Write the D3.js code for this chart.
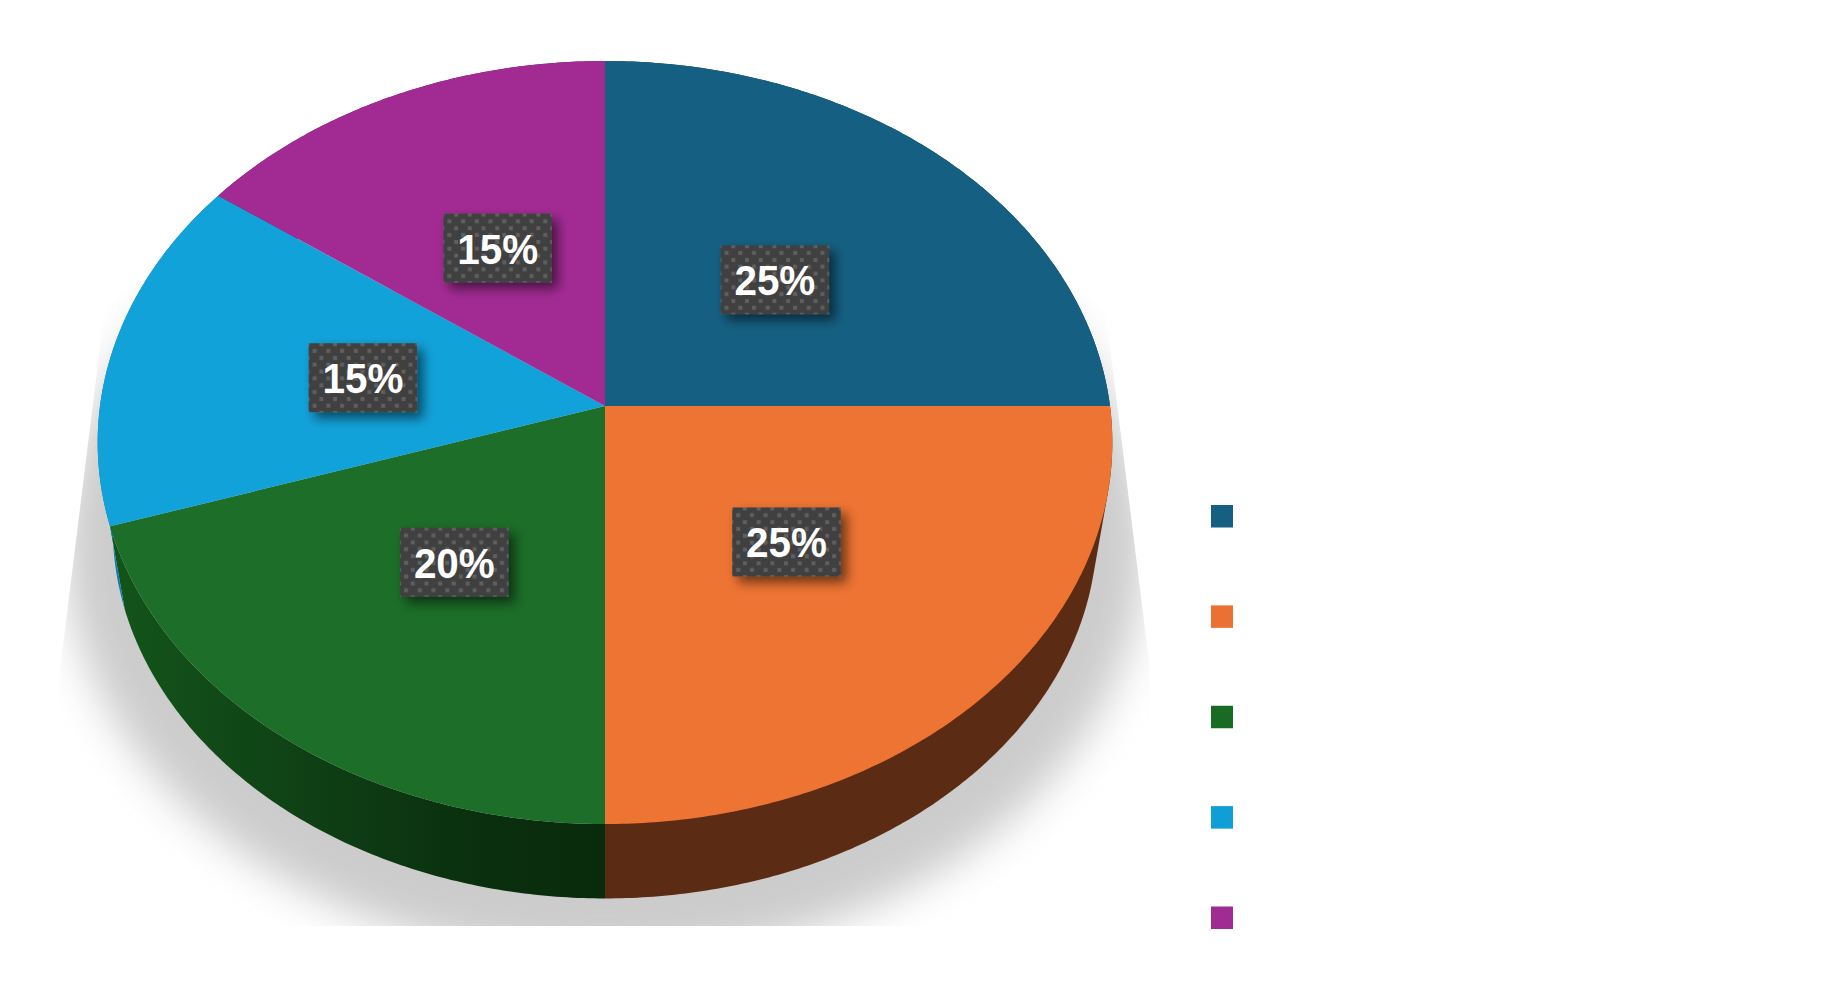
<!DOCTYPE html>
<html>
<head>
<meta charset="utf-8">
<script src="https://cdn.jsdelivr.net/npm/d3@7"></script>
<style>
    body { margin: 0; background: #fff; }
    svg { display: block; }
</style>
</head>
<body>
<div id="container"></div>
<script>
// chart data (legend names are not legible in the reference)
const categories = ["Slice 1", "Slice 2", "Slice 3", "Slice 4", "Slice 5"];
const values = [25, 25, 20, 15, 15];
const topColors = ["#156082", "#ee7433", "#1c6e28", "#12a2da", "#a22b93"];
const legendColors = ["#156082", "#eb7132", "#196b24", "#0f9ed5", "#a02b93"];
const sideColors = ["#0e4058", "#5c2b14", "url(#greenSide)", "#0d7cb2", "#6b1d62"];

const width = 1845;
const height = 990;

// the pie is a circle seen in perspective: k is how much nearer the bottom edge is
const topPlane = { cx: 605, cy: 406, a: 505, b: 378, k: 0.0957 };
const lowPlane = { cx: 605, cy: 492.6, a: 490, b: 367, k: 0.0957 };

function project(plane, angle, r) {
    const u = Math.sin(angle) * r;
    const v = -Math.cos(angle) * r;
    const w = 1 - plane.k * v;
    return [plane.cx + plane.a * u / w, plane.cy + plane.b * v / w];
}

// sample an arc between two angles, one point per half degree or so
function arcPoints(plane, a0, a1) {
    const n = Math.ceil(Math.abs(a1 - a0) / 0.01);
    return d3.range(n + 1).map(i => project(plane, a0 + (a1 - a0) * i / n, 1));
}

const line = d3.line();
const pie = d3.pie().sort(null).value(d => d);
const slices = pie(values);

const svg = d3.select("#container").append("svg")
    .attr("width", width)
    .attr("height", height);

const defs = svg.append("defs");

const blur = defs.append("filter").attr("id", "shadowBlur")
    .attr("x", "-20%").attr("y", "-20%").attr("width", "140%").attr("height", "140%");
blur.append("feGaussianBlur").attr("stdDeviation", 21);

// shadow is cut off sharply on both sides and along the bottom
defs.append("clipPath").attr("id", "shadowClip")
    .append("path")
    .attr("d", "M107,290L1103,290L1150,670L1150,926L60,926L60,670Z");

const greenSide = defs.append("linearGradient").attr("id", "greenSide")
    .attr("gradientUnits", "userSpaceOnUse")
    .attr("x1", 110).attr("x2", 605).attr("y1", 0).attr("y2", 0);
greenSide.append("stop").attr("offset", 0).attr("stop-color", "#13551b");
greenSide.append("stop").attr("offset", 0.4).attr("stop-color", "#0f4015");
greenSide.append("stop").attr("offset", 0.75).attr("stop-color", "#0a2f0e");
greenSide.append("stop").attr("offset", 1).attr("stop-color", "#082b0c");

const dots = defs.append("pattern").attr("id", "labelDots")
    .attr("patternUnits", "userSpaceOnUse")
    .attr("width", 13.7).attr("height", 13.7);
dots.append("rect").attr("width", 13.7).attr("height", 13.7).attr("fill", "#404040");
dots.append("rect").attr("x", 4).attr("y", 5.7).attr("width", 4).attr("height", 4).attr("fill", "#5e5e5e");
dots.append("rect").attr("x", 10.7).attr("y", -1).attr("width", 4).attr("height", 4).attr("fill", "#5e5e5e");
dots.append("rect").attr("x", -3).attr("y", -1).attr("width", 4).attr("height", 4).attr("fill", "#5e5e5e");
dots.append("rect").attr("x", 10.7).attr("y", 12.7).attr("width", 4).attr("height", 4).attr("fill", "#5e5e5e");
dots.append("rect").attr("x", -3).attr("y", 12.7).attr("width", 4).attr("height", 4).attr("fill", "#5e5e5e");

const labelShadow = defs.append("filter").attr("id", "labelShadow")
    .attr("x", "-20%").attr("y", "-20%").attr("width", "150%").attr("height", "150%");
labelShadow.append("feDropShadow")
    .attr("dx", 6).attr("dy", 6).attr("stdDeviation", 6)
    .attr("flood-color", "#000").attr("flood-opacity", 0.55);

// ground shadow
svg.append("g")
    .attr("clip-path", "url(#shadowClip)")
    .append("ellipse")
    .attr("cx", 605).attr("cy", 545)
    .attr("rx", 540).attr("ry", 415)
    .attr("fill", "#cccccc")
    .attr("filter", "url(#shadowBlur)");

// side wall of the pie; the orange one needs the hull of both rims to get
// its straight tangent edge on the right, the blue one stays a thin sliver
svg.append("g").selectAll("path")
    .data(slices)
    .join("path")
    .attr("fill", (d, i) => sideColors[i])
    .attr("d", d => {
        const rim = arcPoints(topPlane, d.startAngle, d.endAngle)
            .concat(arcPoints(lowPlane, d.endAngle, d.startAngle));
        return line(d.index === 1 ? d3.polygonHull(rim) : rim) + "Z";
    });

// top face
svg.append("g").selectAll("path")
    .data(slices)
    .join("path")
    .attr("fill", (d, i) => topColors[i])
    .attr("d", d => line([[topPlane.cx, topPlane.cy]]
        .concat(arcPoints(topPlane, d.startAngle, d.endAngle))) + "Z");

// value labels sit about halfway out along each slice
const labelW = 108.5;
const labelH = 69;
const labels = svg.append("g").selectAll("g")
    .data(slices)
    .join("g")
    .attr("transform", d => {
        const p = project(topPlane, (d.startAngle + d.endAngle) / 2, 0.49);
        return `translate(${p[0] - labelW / 2 + 0.5},${p[1] - labelH / 2 + 0.5})`;
    });

labels.append("rect")
    .attr("width", labelW)
    .attr("height", labelH)
    .attr("fill", "url(#labelDots)")
    .attr("filter", "url(#labelShadow)");

// the reference text is a bit condensed, so squeeze it sideways
labels.append("text")
    .attr("transform", `translate(${labelW / 2},${labelH / 2 + 15.5}) scale(0.94,1)`)
    .attr("text-anchor", "middle")
    .attr("fill", "#fff")
    .style("font", "bold 43px 'Liberation Sans'")
    .text(d => d.value + "%");

// legend swatches, the legend text in the reference is white on white
const legendY = d3.scalePoint().domain(categories).range([505, 906.5]);
svg.append("g").selectAll("rect")
    .data(categories)
    .join("rect")
    .attr("x", 1211)
    .attr("y", d => legendY(d))
    .attr("width", 22)
    .attr("height", 22.5)
    .attr("fill", (d, i) => legendColors[i]);
</script>
</body>
</html>
